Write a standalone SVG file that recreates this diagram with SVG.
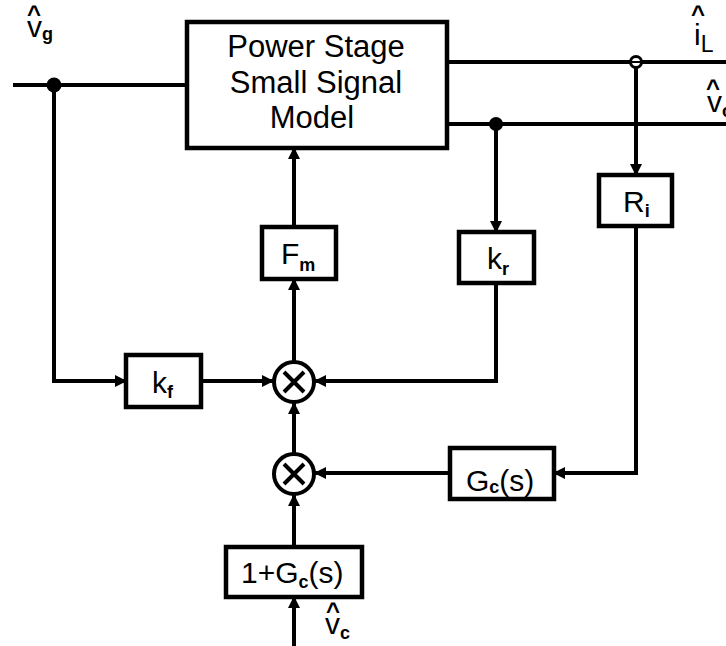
<svg xmlns="http://www.w3.org/2000/svg" width="726" height="646" viewBox="0 0 726 646">
<style>
.box{fill:#fff;stroke:#000;stroke-width:4.5}
.ln{fill:none;stroke:#000;stroke-width:4}
.t{font-family:"Liberation Sans",Arial,sans-serif;fill:#000}
.sb{font-family:"Liberation Sans",Arial,sans-serif;font-weight:bold;fill:#000}
.hat{font-family:"Liberation Sans",Arial,sans-serif;font-size:24px;font-weight:bold;fill:#000}
</style>
<defs>
<marker id="ah" markerWidth="12" markerHeight="12" refX="11" refY="6" orient="auto" markerUnits="userSpaceOnUse">
<path d="M0,0 L12,6 L0,12 Z" fill="#000"/>
</marker>
</defs>
<rect width="726" height="646" fill="#fff"/>
<g id="connectors">
<path class="ln" d="M13,85 H187"/>
<path class="ln" d="M54,85 V381 H126" marker-end="url(#ah)"/>
<path class="ln" d="M201,381 H273" marker-end="url(#ah)"/>
<path class="ln" d="M294,361 V279" marker-end="url(#ah)"/>
<path class="ln" d="M294,227 V148" marker-end="url(#ah)"/>
<path class="ln" d="M447,62 H726"/>
<path class="ln" d="M447,124 H726"/>
<path class="ln" d="M636,62 V175" marker-end="url(#ah)"/>
<path class="ln" d="M496,124 V232" marker-end="url(#ah)"/>
<path class="ln" d="M496,283 V381 H315" marker-end="url(#ah)"/>
<path class="ln" d="M636,226 V473 H554" marker-end="url(#ah)"/>
<path class="ln" d="M450,473 H315" marker-end="url(#ah)"/>
<path class="ln" d="M294,453 V403" marker-end="url(#ah)"/>
<path class="ln" d="M294,547 V495" marker-end="url(#ah)"/>
<path class="ln" d="M294,646 V597" marker-end="url(#ah)"/>
<circle cx="54" cy="85" r="7.5" fill="#000"/>
<circle cx="496" cy="124" r="7" fill="#000"/>
<circle cx="636" cy="62" r="5.5" fill="#fff" stroke="#000" stroke-width="3"/>
<path d="M630,62 H642" stroke="#000" stroke-width="2"/>
</g>
<g id="power-stage">
<rect class="box" x="187" y="22" width="260" height="126"/>
<text class="t" font-size="31" text-anchor="middle" x="316" y="57">Power Stage</text>
<text class="t" font-size="31" text-anchor="middle" x="316" y="93">Small Signal</text>
<text class="t" font-size="31" text-anchor="middle" x="312" y="128">Model</text>
</g>
<g id="Fm">
<rect class="box" x="262" y="227" width="74" height="52"/>
<text x="281" y="264"><tspan class="t" font-size="30">F</tspan><tspan class="sb" font-size="18" dy="7">m</tspan></text>
</g>
<g id="kr">
<rect class="box" x="459" y="232" width="75" height="51"/>
<text x="487" y="269"><tspan class="t" font-size="30">k</tspan><tspan class="sb" font-size="18" dy="6">r</tspan></text>
</g>
<g id="Ri">
<rect class="box" x="599" y="175" width="73" height="51"/>
<text x="623" y="212"><tspan class="t" font-size="30">R</tspan><tspan class="sb" font-size="18" dy="5">i</tspan></text>
</g>
<g id="kf">
<rect class="box" x="126" y="355" width="75" height="52"/>
<text x="152" y="393"><tspan class="t" font-size="30">k</tspan><tspan class="sb" font-size="18" dy="5">f</tspan></text>
</g>
<g id="mult1">
<circle cx="294" cy="382" r="20" fill="#fff" stroke="#000" stroke-width="4"/>
<path d="M284,372 L304,392 M304,372 L284,392" stroke="#000" stroke-width="4"/>
</g>
<g id="mult2">
<circle cx="294" cy="474" r="20" fill="#fff" stroke="#000" stroke-width="4"/>
<path d="M284,464 L304,484 M304,464 L284,484" stroke="#000" stroke-width="4"/>
</g>
<g id="Gc">
<rect class="box" x="450" y="448" width="104" height="51"/>
<text x="466" y="491"><tspan class="t" font-size="30">G</tspan><tspan class="sb" font-size="18" dy="2">c</tspan><tspan class="t" font-size="30" dy="-2">(s)</tspan></text>
</g>
<g id="oneplusGc">
<rect class="box" x="226" y="547" width="136" height="50"/>
<text x="241" y="583"><tspan class="t" font-size="30">1+G</tspan><tspan class="sb" font-size="18" dy="5">c</tspan><tspan class="t" font-size="30" dy="-5">(s)</tspan></text>
</g>
<g id="labels">
<text><tspan class="hat" x="27" y="22">^</tspan><tspan class="t" font-size="30" x="27" y="37">v</tspan><tspan class="sb" font-size="18" dy="3">g</tspan></text>
<text><tspan class="hat" x="691" y="22">^</tspan><tspan class="t" font-size="30" x="694" y="45">i</tspan><tspan class="t" font-size="23" dy="7">L</tspan></text>
<text><tspan class="hat" x="706" y="96">^</tspan><tspan class="t" font-size="30" x="707" y="112">v</tspan><tspan class="sb" font-size="18" dy="5">o</tspan></text>
<text><tspan class="hat" x="326" y="619">^</tspan><tspan class="t" font-size="30" x="325" y="634">v</tspan><tspan class="sb" font-size="18" dy="5">c</tspan></text>
</g>
</svg>
